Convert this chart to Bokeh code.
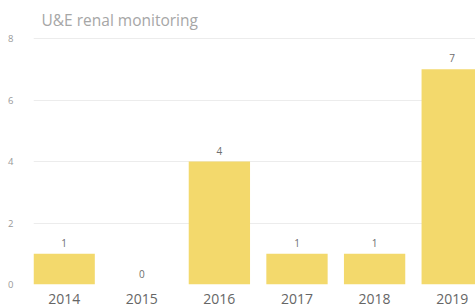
from bokeh.plotting import figure
from bokeh.models import Range1d, FixedTicker, ColumnDataSource, LabelSet, Title
from bokeh.core.properties import value
from bokeh.embed import file_html
from bokeh.resources import INLINE

years = ["2014", "2015", "2016", "2017", "2018", "2019"]
counts = [1, 0, 4, 1, 1, 7]
y_ticks = [0, 2, 4, 6, 8]

xs = list(range(len(years)))
src = ColumnDataSource(dict(x=xs, top=counts, lbl=[str(c) for c in counts]))

p = figure(width=475, height=306, output_backend="svg", toolbar_location=None,
           x_range=Range1d(-0.395, 5.3), y_range=Range1d(0, 8.1),
           min_border_left=33, min_border_right=0, min_border_bottom=22, min_border_top=35)
p.title = Title(text="U&E renal monitoring", text_font="Open Sans", text_font_size="15.5px",
                text_color="#a6a6a6", text_font_style="normal", offset=8, standoff=10)
p.outline_line_color = None
p.background_fill_color = "white"
p.border_fill_color = "white"

p.vbar(x="x", top="top", width=0.79, source=src, color="#F3D96C", line_color=None)

labels = LabelSet(x="x", y="top", text="lbl", source=src, text_align="center",
                  text_baseline="bottom", y_offset=7, text_font_size=value("10px"),
                  text_color=value("#6e6e6e"), text_font=value("Open Sans"))
p.add_layout(labels)

p.xaxis.ticker = FixedTicker(ticks=xs)
p.xaxis.major_label_overrides = {i: y for i, y in enumerate(years)}
p.xaxis.major_label_text_font = "Open Sans"
p.xaxis.major_label_text_font_size = "14px"
p.xaxis.major_label_text_color = "#666666"
p.xaxis.major_label_standoff = 3
p.xaxis.axis_line_color = None
p.xaxis.major_tick_line_color = None
p.xaxis.minor_tick_line_color = None

p.yaxis.ticker = FixedTicker(ticks=y_ticks)
p.yaxis.major_label_text_font = "Open Sans"
p.yaxis.major_label_text_font_size = "9.5px"
p.yaxis.major_label_text_color = "#999999"
p.yaxis.major_label_standoff = 14
p.yaxis.axis_line_color = None
p.yaxis.major_tick_line_color = None
p.yaxis.minor_tick_line_color = None

p.xgrid.grid_line_color = None
p.ygrid.ticker = FixedTicker(ticks=y_ticks)
p.ygrid.grid_line_color = "#ececec"

open("out.html", "w").write(file_html(p, INLINE))
